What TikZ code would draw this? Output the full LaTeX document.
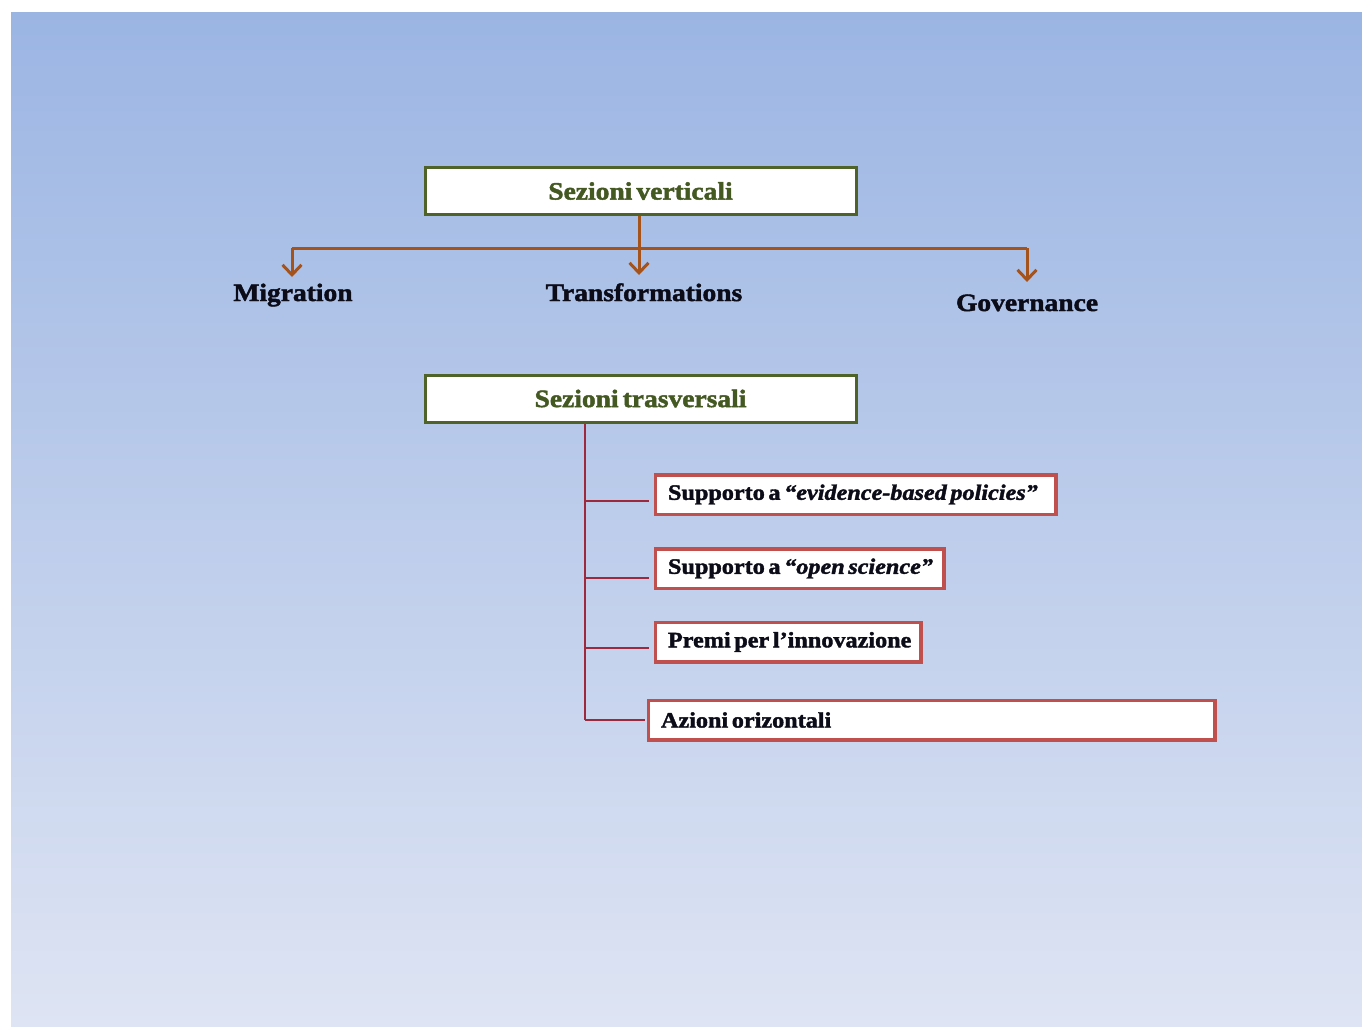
\documentclass[tikz,border=0pt]{standalone}
\usepackage{fontspec}
\setmainfont{Liberation Serif}[FakeStretch=1.1,WordSpace=0.6,BoldFeatures={FakeBold=1.8},BoldItalicFeatures={FakeBold=1.8}]
\usetikzlibrary{arrows.meta,calc}
\definecolor{bgtop}{RGB}{155,181,227}
\definecolor{bgbot}{RGB}{222,228,243}
\definecolor{olivebd}{RGB}{79,98,40}
\definecolor{olivetx}{RGB}{68,88,34}
\definecolor{arrowc}{RGB}{166,82,27}
\definecolor{boxred}{RGB}{192,80,77}
\definecolor{linered}{RGB}{158,40,60}
\definecolor{inkc}{RGB}{12,12,24}
\tikzset{
  hbox/.style={draw=olivebd,line width=3pt,fill=white,minimum width=431pt,minimum height=47pt,inner sep=0pt,
    font=\bfseries\fontsize{25}{30}\selectfont,text=olivetx},
  lab/.style={inner sep=0pt,anchor=base,font=\bfseries\fontsize{25}{30}\selectfont,text=inkc},
  ibox/.style={draw=boxred,line width=3.5pt,fill=white,minimum height=39.5pt,inner ysep=0pt,inner xsep=12.5pt,
    anchor=west,font=\bfseries\fontsize{22}{26}\selectfont,text=inkc},
  conn/.style={draw=arrowc,line width=3pt},
  tip/.style={conn,-{Straight Barb[length=10pt,width=19pt,line width=3pt]}},
  rline/.style={draw=linered,line width=2pt}
}
\begin{document}
\begin{tikzpicture}[x=1pt,y=-1pt]
\useasboundingbox (0,0) rectangle (1362,1026);
\fill[white] (0,0) rectangle (1362,1026);
\shade[top color=bgtop,bottom color=bgbot] (11,12) rectangle (1362,1026);

% top part
\node[hbox] (sv) at (640.5,191) {Sezioni verticali};
\node[lab] (mig) at (293,301) {Migration};
\node[lab] (tra) at (644,301) {Transformations};
\node[lab] (gov) at (1027,311) {Governance};

\coordinate (hl) at (292,248);
\coordinate (hr) at (1027,248);
\coordinate (mt) at (292,277);
\coordinate (tt) at (639,275);
\coordinate (gt) at (1027,282);

\draw[conn] (hl) -- (hr);
\draw[tip] (hl) -- (mt);
\draw[tip] (hr) -- (gt);
\draw[tip] (sv.south -| tt) -- (tt);

% bottom part
\node[hbox] (st) at (640.5,398.5) {Sezioni trasversali};

\node[ibox] (b1) at (653.75,494.5) {\makebox[375.5pt][l]{Supporto a \textit{“evidence-based policies”}}};
\node[ibox] (b2) at (653.75,568.5) {\makebox[263.5pt][l]{Supporto a \textit{“open science”}}};
\node[ibox] (b3) at (653.75,642) {\makebox[240.5pt][l]{Premi per l’innovazione}};
\node[ibox] (b4) at (646.75,720) {\makebox[541.5pt][l]{Azioni orizontali}};

\coordinate (t1) at (585,500.5);
\coordinate (t2) at (585,578);
\coordinate (t3) at (585,648);
\coordinate (t4) at (585,720);

\draw[rline] (st.south -| t4) -- (t4);
\draw[rline,shorten >=5pt] (t1) -- (t1 -| b1.west);
\draw[rline,shorten >=5pt] (t2) -- (t2 -| b2.west);
\draw[rline,shorten >=5pt] (t3) -- (t3 -| b3.west);
\draw[rline,shorten >=2pt] (t4) -- (t4 -| b4.west);
\end{tikzpicture}
\end{document}
